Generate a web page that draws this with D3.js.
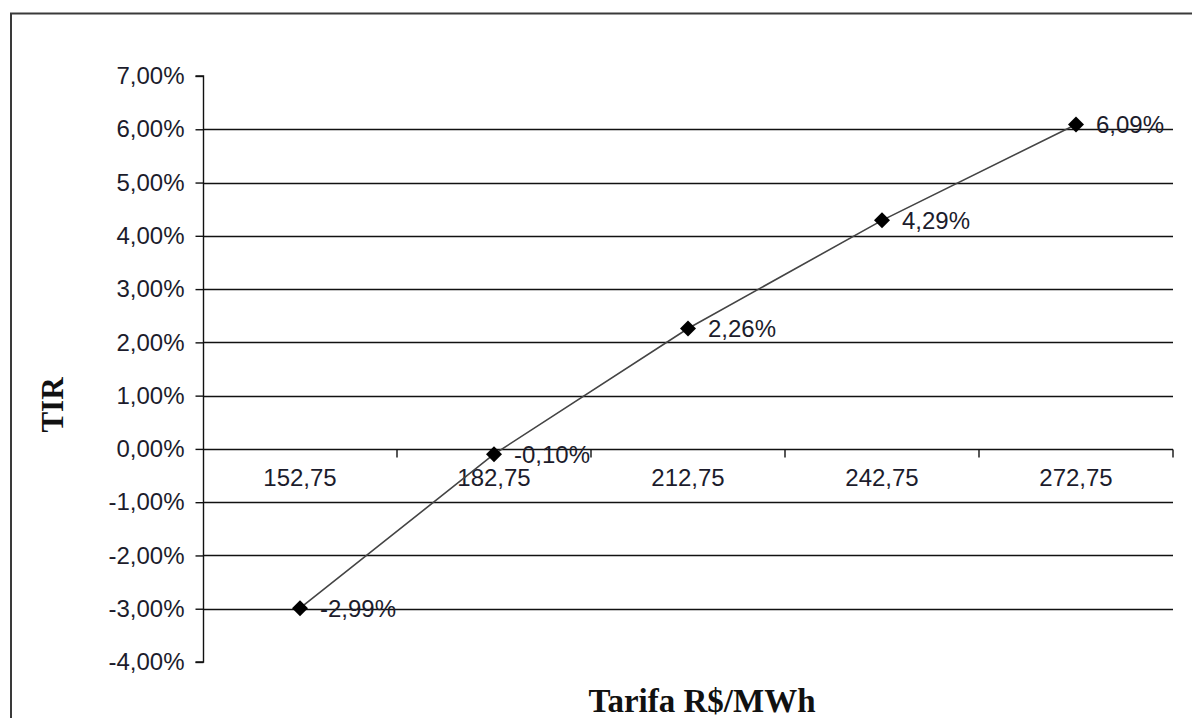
<!DOCTYPE html>
<html>
<head>
<meta charset="utf-8">
<script src="https://cdn.jsdelivr.net/npm/d3@7"></script>
<style>
  html, body { margin: 0; padding: 0; background: #fff; }
  svg { display: block; }
</style>
</head>
<body>
<svg id="chart" width="1192" height="718"></svg>
<script>
// Tarifa (R$/MWh) versus TIR
const categories = ["152,75", "182,75", "212,75", "242,75", "272,75"];
const tirValues = [-2.99, -0.10, 2.26, 4.29, 6.09];
const yTicks = [7, 6, 5, 4, 3, 2, 1, 0, -1, -2, -3, -4];

(function () {
const svg = d3.select("#chart");
const fmt = v => d3.format(".2f")(v).replace(".", ",").replace("−", "-") + "%";
const sans = "Liberation Sans, Arial, sans-serif";
const serif = "Liberation Serif, Times New Roman, serif";
const textColor = "#1c1c2c";

const plotLeft = 203, plotRight = 1173, plotTop = 76, plotBottom = 662;

const x = d3.scaleBand().domain(categories).range([plotLeft, plotRight]).padding(0);
const y = d3.scaleLinear().domain([-4, 7]).range([plotBottom, plotTop]);
const cx = c => x(c) + x.bandwidth() / 2;

// outer frame (top and left edges)
svg.append("path")
  .attr("d", `M11,718 L11,13.5 L1192,13.5`)
  .attr("fill", "none").attr("stroke", "#3a3a3a").attr("stroke-width", 2);

// horizontal gridlines
svg.append("g").selectAll("line")
  .data(yTicks.filter(v => v !== 7 && v !== -4 && v !== 0))
  .join("line")
  .attr("x1", plotLeft).attr("x2", plotRight)
  .attr("y1", d => Math.round(y(d)) + 0.5).attr("y2", d => Math.round(y(d)) + 0.5)
  .attr("stroke", "#111").attr("stroke-width", 1.4);

// y axis
const yAxis = d3.axisLeft(y).tickValues(yTicks).tickFormat(fmt).tickSize(8).tickPadding(11);
const gy = svg.append("g").attr("transform", `translate(${plotLeft + 0.5},0)`).call(yAxis);
gy.select(".domain").attr("stroke", "#111").attr("stroke-width", 1.4).attr("d", `M-8,${plotTop}H0V${plotBottom}H-8`);
gy.selectAll(".tick line").attr("stroke", "#111").attr("stroke-width", 1.4);
gy.selectAll(".tick text")
  .attr("font-family", sans)
  .attr("font-size", 24).attr("fill", textColor);

// x axis along zero
const y0 = Math.round(y(0)) + 0.5;
svg.append("line").attr("x1", plotLeft).attr("x2", plotRight).attr("y1", y0).attr("y2", y0)
  .attr("stroke", "#111").attr("stroke-width", 1.4);
const bounds = categories.map(c => x(c)).concat([plotRight]);
svg.append("g").selectAll("line").data(bounds.slice(1))
  .join("line")
  .attr("x1", d => d).attr("x2", d => d)
  .attr("y1", y0).attr("y2", y0 + 8)
  .attr("stroke", "#111").attr("stroke-width", 1.4);
svg.append("g").selectAll("text").data(categories)
  .join("text")
  .attr("x", d => cx(d))
  .attr("y", y0 + 36)
  .attr("text-anchor", "middle")
  .attr("font-family", sans)
  .attr("font-size", 24).attr("fill", textColor)
  .text(d => d);

// series line
const pts = categories.map((c, i) => ({ c, v: tirValues[i] }));
svg.append("path")
  .datum(pts)
  .attr("d", d3.line().x(d => cx(d.c)).y(d => y(d.v)))
  .attr("fill", "none").attr("stroke", "#444").attr("stroke-width", 1.6);

// diamond markers
svg.append("g").selectAll("path").data(pts)
  .join("path")
  .attr("transform", d => `translate(${cx(d.c)},${y(d.v)})`)
  .attr("d", "M0,-8L8,0L0,8L-8,0Z")
  .attr("fill", "#000");

// value labels
svg.append("g").selectAll("text").data(pts)
  .join("text")
  .attr("x", d => cx(d.c) + 20)
  .attr("y", d => y(d.v) + 8.5)
  .attr("font-family", sans)
  .attr("font-size", 24).attr("fill", textColor)
  .text(d => fmt(d.v));

// axis titles
svg.append("text")
  .attr("transform", `translate(63,405) rotate(-90)`)
  .attr("text-anchor", "middle")
  .attr("font-family", serif)
  .attr("font-weight", "bold").attr("font-size", 31).attr("fill", "#111")
  .text("TIR");
svg.append("text")
  .attr("x", 702).attr("y", 712)
  .attr("text-anchor", "middle")
  .attr("font-family", serif)
  .attr("font-weight", "bold").attr("font-size", 33).attr("fill", "#111")
  .text("Tarifa R$/MWh");
})();
</script>
</body>
</html>
